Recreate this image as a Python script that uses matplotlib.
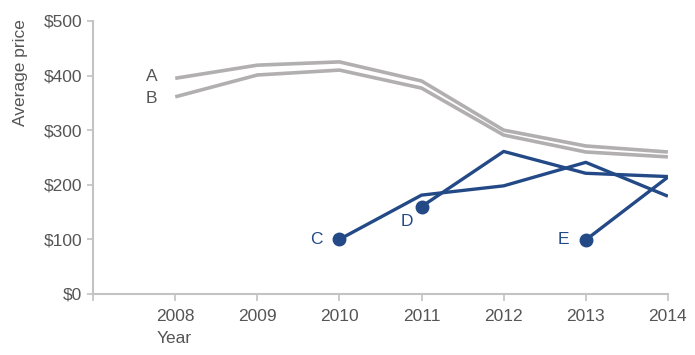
"""Average price by year for five products, labelled inline."""

import matplotlib
matplotlib.use("Agg")
import matplotlib.pyplot as plt

plt.rcParams["font.family"] = ["Liberation Sans", "DejaVu Sans"]

years = [2008, 2009, 2010, 2011, 2012, 2013, 2014]
price_a = [395, 419, 425, 390, 300, 271, 260]
price_b = [361, 401, 410, 377, 291, 260, 251]

years_c = [2010, 2011, 2012, 2013, 2014]
price_c = [100, 181, 198, 241, 179]
years_d = [2011, 2012, 2013, 2014]
price_d = [160, 261, 221, 215]
years_e = [2013, 2014]
price_e = [99, 214]

yticks = [0, 100, 200, 300, 400, 500]
ytick_labels = ["$0", "$100", "$200", "$300", "$400", "$500"]

GRAY = "#b1afb0"
NAVY = "#234a87"
TEXT = "#555555"
SPINE = "#c4c2c3"
FS = 12.5

fig = plt.figure(figsize=(6.95, 3.55), dpi=100)
ax = fig.add_axes([0.134, 0.172, 0.827, 0.769])

for ys in (price_a, price_b):
    ax.plot(years, ys, color=GRAY, lw=2.6, solid_capstyle="butt", zorder=2)

for xs, ys in ((years_c, price_c), (years_d, price_d), (years_e, price_e)):
    ax.plot(xs, ys, color=NAVY, lw=2.4, solid_capstyle="butt", zorder=3)
    ax.plot(xs[0], ys[0], "o", color=NAVY, ms=9, zorder=4)

label_kw = dict(textcoords="offset points", fontsize=FS, ha="right", va="center")
ax.annotate("A", (years[0], price_a[0]), xytext=(-13, 1), color=TEXT, **label_kw)
ax.annotate("B", (years[0], price_b[0]), xytext=(-13, -1), color=TEXT, **label_kw)
ax.annotate("C", (years_c[0], price_c[0]), xytext=(-12, 0), color=NAVY, **label_kw)
ax.annotate("D", (years_d[0], price_d[0]), xytext=(-6, -11), color=NAVY, **label_kw)
ax.annotate("E", (years_e[0], price_e[0]), xytext=(-12, 0), color=NAVY, **label_kw)

ax.set_xlim(2007, 2014)
ax.set_ylim(0, 500)
ax.set_xticks([2007] + years)
ax.set_xticklabels([""] + [str(y) for y in years])
ax.set_yticks(yticks)
ax.set_yticklabels(ytick_labels)

for side in ("top", "right"):
    ax.spines[side].set_visible(False)
for side in ("left", "bottom"):
    ax.spines[side].set_color(SPINE)
    ax.spines[side].set_linewidth(1.5)
ax.spines["bottom"].set_zorder(5)
ax.tick_params(colors=SPINE, labelcolor=TEXT, labelsize=FS, width=1.2)
ax.tick_params(axis="x", length=5, pad=6)
ax.tick_params(axis="y", length=4, pad=4)

fig.text(0.029, 0.945, "Average price", rotation=90, ha="center", va="top",
         fontsize=FS, color=TEXT)
fig.text(0.25, 0.047, "Year", ha="center", va="center", fontsize=FS, color=TEXT)

fig.savefig("out.png", dpi=100)
